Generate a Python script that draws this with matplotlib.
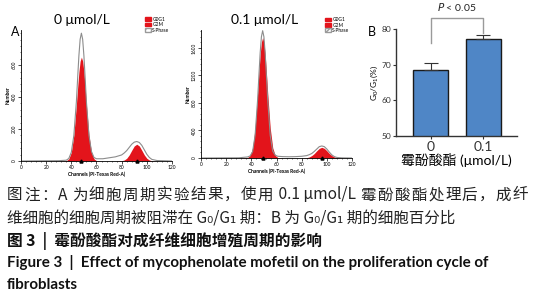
import re
import numpy as np
import matplotlib.pyplot as plt
from matplotlib.patches import Patch
from matplotlib.ticker import MultipleLocator

plt.rcParams['font.family'] = ['Lato', 'Noto Sans CJK SC', 'DejaVu Sans']
plt.rcParams['mathtext.default'] = 'regular'

# panel A, 0 umol/L: channel, measured counts, G0/G1 fit, G2/M fit
ch_0 = [0, 30, 36, 38, 40, 42, 44, 45, 46, 47, 48, 49, 50, 51, 52, 54, 56, 58, 60,
        65, 70, 75, 80, 82, 84, 86, 88, 90, 92, 94, 96, 98, 100, 102, 104, 108, 120]
data_0 = [0, 2, 5, 16, 55, 160, 370, 516, 658, 762, 800, 762, 658, 516, 370, 160, 60, 22, 14,
          14, 20, 26, 38, 50, 65, 85, 105, 118, 122, 116, 98, 70, 42, 22, 10, 3, 0]
g1_0 = [0, 0, 2, 14, 55, 162, 351, 459, 557, 625, 650, 625, 557, 459, 351, 162, 55, 14, 2,
        0, 0, 0, 0, 0, 0, 0, 0, 0, 0, 0, 0, 0, 0, 0, 0, 0, 0]
g2_0 = [0, 0, 0, 0, 0, 0, 0, 0, 0, 0, 0, 0, 0, 0, 0, 0, 0, 0, 0,
        0, 0, 0, 2, 6, 17, 38, 67, 94, 105, 94, 67, 38, 17, 6, 2, 0, 0]

# panel A, 0.1 umol/L
ch_01 = [0, 30, 37, 39, 41, 43, 45, 46, 47, 48, 49, 50, 51, 52, 53, 55, 57, 59, 61,
         65, 70, 75, 80, 84, 86, 88, 90, 92, 94, 96, 98, 100, 102, 104, 106, 108, 112, 120]
data_01 = [0, 3, 15, 30, 90, 330, 850, 1193, 1523, 1761, 1850, 1761, 1523, 1193, 850, 330, 100, 40, 25,
           20, 18, 20, 25, 35, 48, 65, 95, 130, 165, 175, 165, 130, 85, 45, 20, 8, 2, 0]
g1_01 = [0, 0, 7, 37, 148, 436, 943, 1237, 1500, 1684, 1750, 1684, 1500, 1237, 943, 436, 148, 37, 7,
         0, 0, 0, 0, 0, 0, 0, 0, 0, 0, 0, 0, 0, 0, 0, 0, 0, 0, 0]
g2_01 = [0, 0, 0, 0, 0, 0, 0, 0, 0, 0, 0, 0, 0, 0, 0, 0, 0, 0, 0,
         0, 0, 0, 0, 5, 15, 35, 65, 105, 140, 155, 140, 105, 65, 35, 15, 5, 0, 0]

# panel B
groups = ['0', '0.1']
g0g1_pct = [68.4, 77.3]
g0g1_err = [2.0, 0.9]

caption = ['图注：A 为细胞周期实验结果，使用 0.1 μmol/L 霉酚酸酯处理后，成纤',
           '维细胞的细胞周期被阻滞在 G₀/G₁ 期：B 为 G₀/G₁ 期的细胞百分比',
           '图 3  |  霉酚酸酯对成纤维细胞增殖周期的影响',
           'Figure 3  |  Effect of mycophenolate mofetil on the proliferation cycle of',
           'fibroblasts']

RED = '#e3141b'


def histo(rect, ch, data, g1, g2, ymax, yticks, peaks):
    ax = fig.add_axes(rect)
    ax.fill_between(ch, g1, color=RED, lw=0)
    ax.fill_between(ch, g2, color=RED, lw=0)
    ax.plot(ch, data, color='#8c8c8c', lw=0.8)
    ax.plot(peaks, [0, 0], '^', color='k', ms=2.2, clip_on=False)
    ax.set_xlim(0, 120)
    ax.set_ylim(0, ymax)
    ax.set_xticks(range(0, 121, 20))
    ax.set_yticks(yticks)
    ax.xaxis.set_minor_locator(MultipleLocator(4))
    ax.yaxis.set_minor_locator(MultipleLocator(yticks[1] / 5))
    ax.tick_params(labelsize=3.5, length=2, width=0.5, pad=1)
    ax.tick_params(which='minor', length=1, width=0.4)
    for t in ax.get_yticklabels():
        t.set_rotation(90)
        t.set_va('center')
    for s in ['top', 'right']:
        ax.spines[s].set_visible(False)
    for s in ['left', 'bottom']:
        ax.spines[s].set_linewidth(0.6)
    ax.set_xlabel('Channels (PI-Texas Red-A)', fontsize=3.5, fontweight='bold', labelpad=1)
    ax.set_ylabel('Number', fontsize=3.5, fontweight='bold', labelpad=1)
    handles = [Patch(fc=RED, ec=RED, label='G0G1'),
               Patch(fc=RED, ec=RED, label='G2M'),
               Patch(fc='white', ec='#999999', hatch='////', label='S-Phase')]
    ax.legend(handles=handles, loc='upper right', bbox_to_anchor=(1.0, 1.12),
              fontsize=3.5, frameon=False, handlelength=1.2, handleheight=0.8,
              labelspacing=0.1, handletextpad=0.3, borderpad=0)
    return ax


def justify_line(s, x0, x1, y, **kw):
    # spread the characters so the line fills x0..x1, like the justified caption
    r = fig.canvas.get_renderer()
    W = fig.bbox.width
    toks = re.findall(r'[ -~μ₀₁]+|.', s)
    ts = [fig.text(0, y, t, va='center', **kw) for t in toks]
    ws = [t.get_window_extent(r).width for t in ts]
    gap = ((x1 - x0) * W - sum(ws)) / (len(ts) - 1)
    x = x0 * W
    for t, w in zip(ts, ws):
        t.set_x(x / W)
        x += w + gap


fig = plt.figure(figsize=(5.35, 3.0), dpi=100)

histo([21 / 535, 1 - 161 / 300, 151 / 535, 131 / 300], ch_0, data_0, g1_0, g2_0,
      820, [0, 200, 400, 600], [48, 92])
histo([201 / 535, 1 - 158 / 300, 151 / 535, 128 / 300], ch_01, data_01, g1_01, g2_01,
      1860, [0, 400, 800, 1200, 1600], [49, 96])

fig.text(82 / 535, 1 - 20 / 300, '0 μmol/L', ha='center', va='center', fontsize=10)
fig.text(265 / 535, 1 - 20 / 300, '0.1 μmol/L', ha='center', va='center', fontsize=10)
fig.text(15 / 535, 1 - 32 / 300, 'A', ha='center', va='center', fontsize=9)
fig.text(372 / 535, 1 - 32 / 300, 'B', ha='center', va='center', fontsize=9)

# panel B bars
axb = fig.add_axes([396 / 535, 1 - 136 / 300, 121 / 535, 107 / 300])
x = np.arange(len(groups))
axb.bar(x, g0g1_pct, width=0.67, color='#4f86c6', edgecolor='#1a1a1a', lw=1.0,
        yerr=[[0, 0], g0g1_err],
        error_kw=dict(ecolor='#333333', elinewidth=0.8, capsize=5, capthick=0.8))
axb.set_ylim(50, 80)
axb.set_xlim(-0.67, 1.65)
axb.set_yticks([50, 60, 70, 80])
axb.set_xticks(x)
axb.set_xticklabels(groups, fontsize=10)
axb.tick_params(axis='y', labelsize=6, length=2.5, width=0.8, pad=1, colors='#333333')
axb.tick_params(axis='x', length=2.5, width=0.8, pad=1, colors='#333333')
for s in ['top', 'right']:
    axb.spines[s].set_visible(False)
for s in ['left', 'bottom']:
    axb.spines[s].set_linewidth(1.0)
    axb.spines[s].set_color('#333333')
axb.set_ylabel('G$_0$/G$_1$(%)', fontsize=6, labelpad=1)
axb.set_xlabel('霉酚酸酯 (μmol/L)', fontsize=10, labelpad=0)
axb.plot([0, 0, 1, 1], [76, 83, 83, 79], color='#9a9a9a', lw=1.0, clip_on=False)
axb.text(0.5, 84.5, '$\\mathit{P}$ < 0.05', ha='center', va='bottom', fontsize=7.5,
         color='#222222')

# caption
cap_font = ['Noto Sans CJK SC', 'DejaVu Sans']
justify_line(caption[0], 7 / 535, 528 / 535, 1 - 195 / 300,
             family=cap_font, fontsize=11.2, color='#222222')
fig.text(7 / 535, 1 - 219 / 300, caption[1],
         family=cap_font, fontsize=11.2, va='center', color='#222222')
fig.text(7 / 535, 1 - 241 / 300, caption[2],
         family=cap_font, fontsize=11.3, fontweight='bold', va='center', color='#111111')
fig.text(7 / 535, 1 - 263 / 300, caption[3],
         fontsize=10.9, fontweight='bold', va='center', color='#111111')
fig.text(7 / 535, 1 - 285 / 300, caption[4],
         fontsize=10.9, fontweight='bold', va='center', color='#111111')

fig.savefig('out.png', dpi=100)
